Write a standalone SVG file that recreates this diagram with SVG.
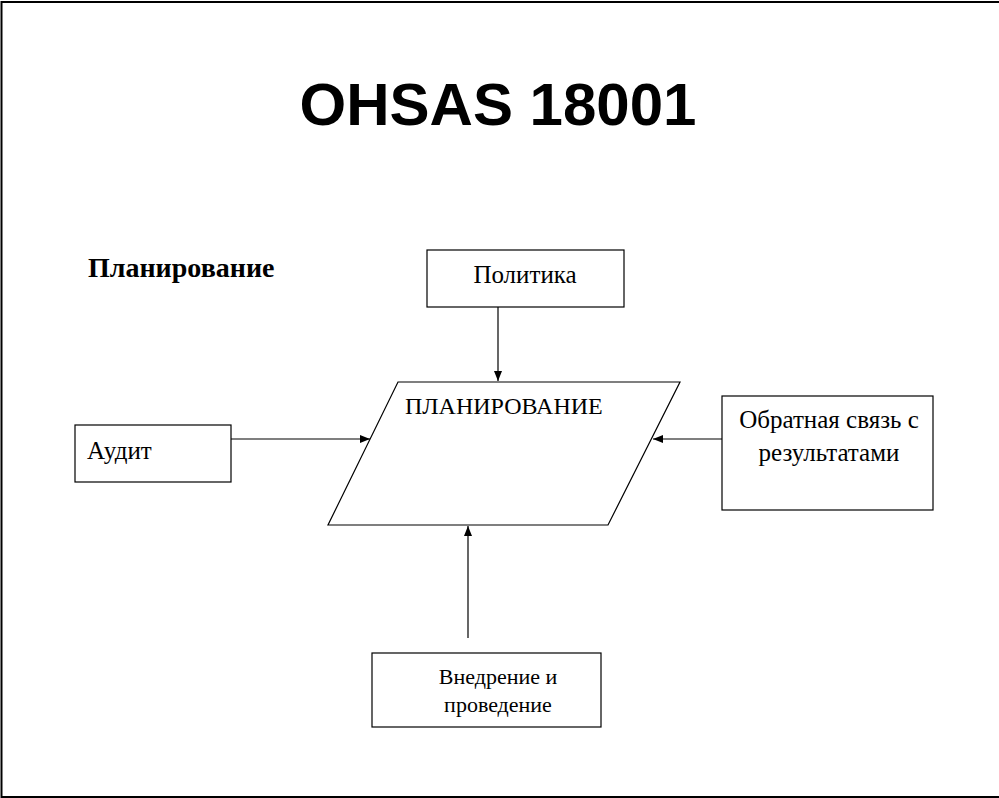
<svg xmlns="http://www.w3.org/2000/svg" width="999" height="798" viewBox="0 0 999 798">
<defs>
<marker id="ah" markerWidth="10" markerHeight="8" refX="10" refY="4" orient="auto" markerUnits="userSpaceOnUse">
<path d="M0,0 L10,4 L0,8 Z" fill="#000"/>
</marker>
<style>
.box{fill:#fff;stroke:#000;stroke-width:1.2}
.t{font-family:"Liberation Serif","Times New Roman",serif;fill:#000}
.c{stroke:#000;stroke-width:1.2;fill:none;marker-end:url(#ah)}
</style>
</defs>
<rect width="999" height="798" fill="#fff"/>
<path d="M999,2 H1.5 V797 H999" fill="none" stroke="#000" stroke-width="2"/>
<text x="498" y="125" text-anchor="middle" font-family="'Liberation Sans',Arial,sans-serif" font-weight="bold" font-size="60">OHSAS 18001</text>
<text x="88" y="277" class="t" font-weight="bold" font-size="28">Планирование</text>
<g id="connectors">
<line class="c" x1="498" y1="307" x2="498" y2="381"/>
<line class="c" x1="231" y1="439" x2="370" y2="439"/>
<line class="c" x1="722" y1="439" x2="653" y2="439"/>
<line class="c" x1="468" y1="638" x2="468" y2="526"/>
</g>
<g id="politika">
<rect class="box" x="427" y="250" width="197" height="57"/>
<text x="525" y="283" class="t" font-size="25" text-anchor="middle">Политика</text>
</g>
<g id="planirovanie">
<polygon class="box" points="398,382 680,382 608,525 328,525"/>
<text x="405" y="414" class="t" font-size="24">ПЛАНИРОВАНИЕ</text>
</g>
<g id="audit">
<rect class="box" x="75" y="425" width="156" height="57"/>
<text x="87" y="459" class="t" font-size="25">Аудит</text>
</g>
<g id="feedback">
<rect class="box" x="722" y="396" width="211" height="114"/>
<text x="829" y="428" class="t" font-size="25" text-anchor="middle">Обратная связь с</text>
<text x="829" y="461" class="t" font-size="25" text-anchor="middle">результатами</text>
</g>
<g id="vnedrenie">
<rect class="box" x="372" y="653" width="229" height="74"/>
<text x="498" y="684" class="t" font-size="22" text-anchor="middle">Внедрение и</text>
<text x="498" y="712" class="t" font-size="22" text-anchor="middle">проведение</text>
</g>
</svg>
